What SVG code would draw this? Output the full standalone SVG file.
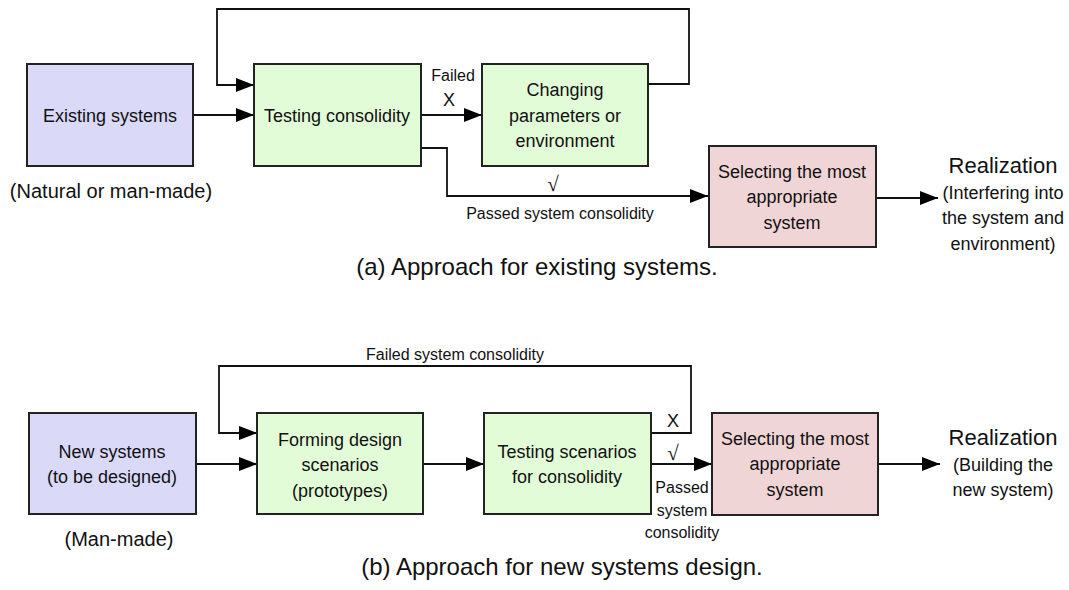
<svg xmlns="http://www.w3.org/2000/svg" width="1069" height="590" viewBox="0 0 1069 590">
<defs>
<marker id="arr" markerUnits="userSpaceOnUse" markerWidth="18" markerHeight="14" refX="18" refY="7" orient="auto">
<path d="M0,0 L18,7 L0,14 z" fill="#000"/>
</marker>
<style>
.box{stroke:#222;stroke-width:2}
.blue{fill:#dadaf8}
.green{fill:#e3fcd8}
.pink{fill:#f0d5d6}
.t{font-family:"Liberation Sans",Arial,sans-serif;font-size:18px;fill:#111;text-anchor:middle;dominant-baseline:central}
.n{font-family:"Liberation Sans",Arial,sans-serif;font-size:20px;fill:#111;text-anchor:middle;dominant-baseline:central}
.s{font-family:"Liberation Sans",Arial,sans-serif;font-size:16px;fill:#111;text-anchor:middle;dominant-baseline:central}
.m{font-family:"Liberation Sans",Arial,sans-serif;font-size:18px;fill:#111;text-anchor:middle;dominant-baseline:central}
.r{font-family:"Liberation Serif","Times New Roman",serif;font-size:21px;fill:#111;text-anchor:middle;dominant-baseline:central}
.big{font-family:"Liberation Sans",Arial,sans-serif;font-size:22px;fill:#111;text-anchor:middle;dominant-baseline:central}
.cap{font-family:"Liberation Sans",Arial,sans-serif;font-size:24px;fill:#111;text-anchor:middle;dominant-baseline:central}
.c{fill:none;stroke:#111;stroke-width:1.8}
</style>
</defs>
<rect width="1069" height="590" fill="#fff"/>
<g id="connectors">
<path class="c" d="M193,115 H254" marker-end="url(#arr)"/>
<path class="c" d="M421,115 H482" marker-end="url(#arr)"/>
<path class="c" d="M648,84 H689 V9 H217 V85 H254" marker-end="url(#arr)"/>
<path class="c" d="M421,148 H447 V196 H708" marker-end="url(#arr)"/>
<path class="c" d="M876,198 H938" marker-end="url(#arr)"/>
<path class="c" d="M196,464 H257" marker-end="url(#arr)"/>
<path class="c" d="M423,464 H484" marker-end="url(#arr)"/>
<path class="c" d="M651,433 H691 V366 H219 V433 H257" marker-end="url(#arr)"/>
<path class="c" d="M651,464 H712" marker-end="url(#arr)"/>
<path class="c" d="M878,464 H940" marker-end="url(#arr)"/>
</g>
<g id="labels">
<text class="s" x="453" y="75">Failed</text>
<text class="m" x="449" y="100">X</text>
<text class="r" x="553" y="184">√</text>
<text class="s" x="560" y="213">Passed system consolidity</text>
<text class="s" x="455" y="354">Failed system consolidity</text>
<text class="m" x="673" y="421">X</text>
<text class="r" x="673" y="453">√</text>
<text class="s" x="682" y="487">Passed</text>
<text class="s" x="682" y="510">system</text>
<text class="s" x="682" y="532">consolidity</text>
</g>
<g id="existing">
<rect class="box blue" x="27" y="64" width="166" height="102"/>
<text class="t" x="110" y="116">Existing systems</text>
<text class="n" x="111" y="191">(Natural or man-made)</text>
</g>
<g id="testing">
<rect class="box green" x="254" y="64" width="167" height="102"/>
<text class="t" x="337" y="116">Testing consolidity</text>
</g>
<g id="changing">
<rect class="box green" x="482" y="64" width="166" height="102"/>
<text class="t" x="565" y="90">Changing</text>
<text class="t" x="565" y="116">parameters or</text>
<text class="t" x="565" y="141">environment</text>
</g>
<g id="selecting-a">
<rect class="box pink" x="709" y="146" width="167" height="101"/>
<text class="t" x="792" y="172">Selecting the most</text>
<text class="t" x="792" y="197">appropriate</text>
<text class="t" x="792" y="223">system</text>
</g>
<g id="realization-a">
<text class="big" x="1003" y="165">Realization</text>
<text class="t" x="1003" y="193">(Interfering into</text>
<text class="t" x="1003" y="218">the system and</text>
<text class="t" x="1003" y="244">environment)</text>
</g>
<text class="cap" x="537" y="266">(a) Approach for existing systems.</text>
<g id="new">
<rect class="box blue" x="29" y="413" width="167" height="101"/>
<text class="t" x="112" y="452">New systems</text>
<text class="t" x="112" y="477">(to be designed)</text>
<text class="n" x="119" y="539">(Man-made)</text>
</g>
<g id="forming">
<rect class="box green" x="257" y="413" width="166" height="101"/>
<text class="t" x="340" y="440">Forming design</text>
<text class="t" x="340" y="465">scenarios</text>
<text class="t" x="340" y="491">(prototypes)</text>
</g>
<g id="testing-b">
<rect class="box green" x="484" y="413" width="167" height="101"/>
<text class="t" x="567" y="452">Testing scenarios</text>
<text class="t" x="567" y="477">for consolidity</text>
</g>
<g id="selecting-b">
<rect class="box pink" x="712" y="413" width="166" height="102"/>
<text class="t" x="795" y="439">Selecting the most</text>
<text class="t" x="795" y="464">appropriate</text>
<text class="t" x="795" y="490">system</text>
</g>
<g id="realization-b">
<text class="big" x="1003" y="437">Realization</text>
<text class="t" x="1003" y="465">(Building the</text>
<text class="t" x="1003" y="490">new system)</text>
</g>
<text class="cap" x="562" y="566">(b) Approach for new systems design.</text>
</svg>
